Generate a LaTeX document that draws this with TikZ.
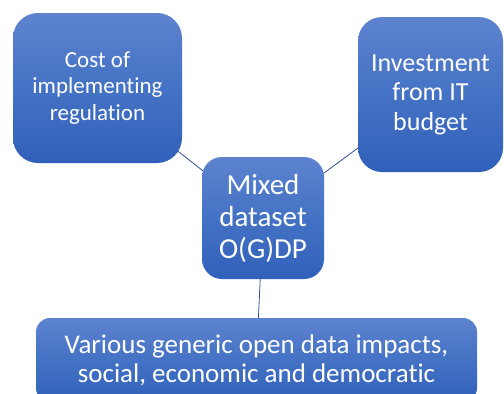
\documentclass[tikz,border=0pt]{standalone}
\usepackage{fontspec}
\setmainfont{Carlito}[Ligatures=NoCommon]
\usetikzlibrary{backgrounds}
\definecolor{boxtop}{RGB}{93,131,207}
\definecolor{boxmid}{RGB}{68,114,196}
\definecolor{boxbot}{RGB}{48,96,186}
\definecolor{linkblue}{RGB}{47,82,143}
\begin{document}
\begin{tikzpicture}[x=1pt, y=-1pt,
    box/.style={rectangle, top color=boxtop, bottom color=boxbot, middle color=boxmid,
        text=white, align=center, inner sep=0pt},
    link/.style={draw=linkblue, line width=0.8pt}]
    \useasboundingbox (0,0) rectangle (504,394);

    % Boxes
    \node[box, minimum width=169pt, minimum height=150pt, rounded corners=25pt,
        font=\fontsize{23}{26.5}\selectfont] (cost) at (97.5,88) {Cost of\\implementing\\regulation};
    \node[box, minimum width=145pt, minimum height=155pt, rounded corners=24pt,
        font=\fontsize{26}{29.5}\selectfont] (invest) at (430.5,94.5) {Investment\\from IT\\budget};
    \node[box, minimum width=122pt, minimum height=122pt, rounded corners=20pt,
        font=\fontsize{29}{32}\selectfont] (mixed) at (263,218) {Mixed\\dataset\\O(G)DP};
    \node[box, minimum width=441pt, minimum height=84pt, rounded corners=14pt,
        font=\fontsize{27}{29}\selectfont] (impacts) at (256.5,360) {Various generic open data impacts,\\social, economic and democratic};

    % Connectors (behind the boxes)
    \begin{pgfonlayer}{background}
        \draw[link] (cost.center) -- (mixed.center);
        \draw[link] (invest.center) -- (mixed.center);
        \draw[link] (mixed.center) -- (impacts.center);
    \end{pgfonlayer}
\end{tikzpicture}
\end{document}
